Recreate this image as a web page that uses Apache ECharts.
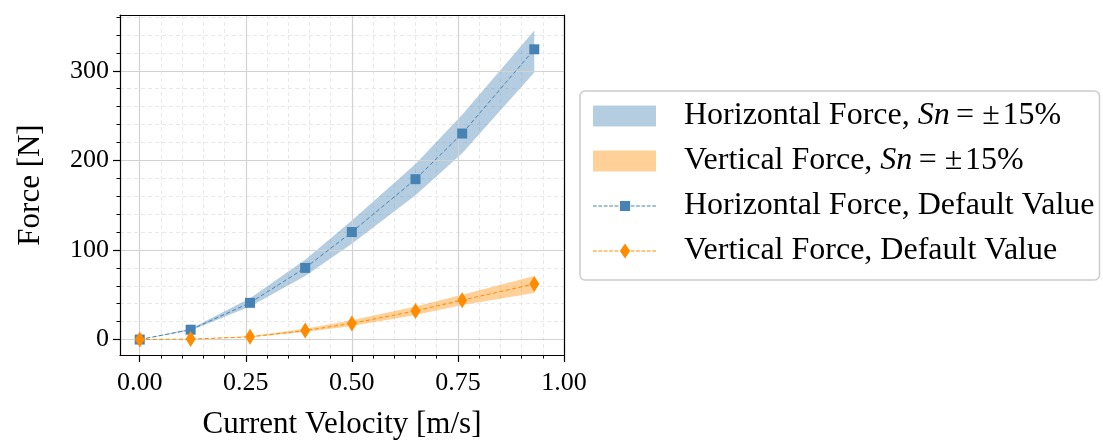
<!DOCTYPE html>
<html>
<head>
<meta charset="utf-8">
<script src="https://cdn.jsdelivr.net/npm/echarts@6/dist/echarts.min.js"></script>
<style>
  html, body { margin: 0; padding: 0; background: #fff; }
  #chart { width: 1103px; height: 444px; }
</style>
</head>
<body>
<div id="chart"></div>
<script>
// Current velocity samples [m/s]
const velocity = [0, 0.12, 0.26, 0.39, 0.50, 0.65, 0.76, 0.93];

// Horizontal force [N]: default value and the Sn = ±15% envelope
const horizontalForce = [0, 11, 41, 80, 120, 179, 230, 324];
const horizontalUpper = [0, 12, 46, 89, 133, 196, 251, 345];
const horizontalLower = [0, 10, 37, 71, 107, 161, 208, 298];

// Vertical force [N]: default value and the Sn = ±15% envelope
const verticalForce = [0, 0.5, 3, 10, 18, 32, 44, 62];
const verticalUpper = [0, 0.6, 3.6, 12, 21.5, 37, 50, 71];
const verticalLower = [0, 0.4, 2.5, 8.5, 15, 27.5, 38.5, 52];

// Axis ticks
const xMajorTicks = [0, 0.25, 0.5, 0.75, 1.0];
const xMinorTicks = [0.05, 0.1, 0.15, 0.2, 0.3, 0.35, 0.4, 0.45, 0.55, 0.6, 0.65, 0.7, 0.8, 0.85, 0.9, 0.95];
const yMajorTicks = [0, 100, 200, 300];
const yMinorTicks = [20, 40, 60, 80, 120, 140, 160, 180, 220, 240, 260, 280, 320, 340, 360];

const X_MIN = -0.0465, X_MAX = 1.0;
const Y_MIN = -17.25, Y_MAX = 362.3;

const FONT = '"Liberation Serif", "DejaVu Serif", serif';
const BLUE = '#4682B4';
const ORANGE = '#FF8C00';
const BLUE_BAND = 'rgba(70,130,180,0.4)';
const ORANGE_BAND = 'rgba(255,140,0,0.4)';

// Legend glyph: dashed line with a marker in the middle (63 px wide)
function dashedIcon(markerPath, h) {
  const mid = h / 2;
  let d = '';
  for (let x = 0; x < 63; x += 5.3) {
    const w = Math.min(3.7, 63 - x);
    d += `M${x.toFixed(2)},${(mid - 0.5).toFixed(2)}h${w.toFixed(2)}v1h${(-w).toFixed(2)}Z`;
  }
  return 'path://' + d + markerPath;
}
const squareIcon = dashedIcon('M26.5,0h10v10h-10Z', 10);
const diamondIcon = dashedIcon('M31.5,0L36.5,7.5L31.5,15L26.5,7.5Z', 15);

const legendLabels = {
  hBand: 'Horizontal Force, {i|Sn}\u2009=\u2005\u00b1\u200a15%',
  vBand: 'Vertical Force, {i|Sn}\u2009=\u2005\u00b1\u200a15%',
  hLine: 'Horizontal Force, Default Value',
  vLine: 'Vertical Force, Default Value'
};

function bandSeries(name, lower, upper, color) {
  return {
    name: name,
    type: 'custom',
    xAxisIndex: 0,
    yAxisIndex: 0,
    z: 1,
    itemStyle: { color: color },
    data: velocity.map((x, i) => [x, lower[i], upper[i]]),
    encode: { x: 0, y: [1, 2] },
    renderItem: function (params, api) {
      if (params.dataIndex !== 0) return null;
      const pts = [];
      for (let i = 0; i < velocity.length; i++) pts.push(api.coord([velocity[i], upper[i]]));
      for (let i = velocity.length - 1; i >= 0; i--) pts.push(api.coord([velocity[i], lower[i]]));
      return { type: 'polygon', shape: { points: pts }, style: { fill: color } };
    }
  };
}

function lineSeries(name, values, color, symbol, size) {
  return {
    name: name,
    type: 'line',
    xAxisIndex: 0,
    yAxisIndex: 0,
    z: 3,
    data: velocity.map((x, i) => [x, values[i]]),
    symbol: symbol,
    symbolSize: size,
    showAllSymbol: true,
    itemStyle: { color: color },
    lineStyle: { color: color, width: 1, type: [4, 2.5] }
  };
}

const tickLine = { color: '#000', width: 1.2 };
const labelStyle = { color: '#000', fontFamily: FONT, fontSize: 26 };
const nameStyle = { color: '#000', fontFamily: FONT, fontSize: 31 };

const chart = echarts.init(document.getElementById('chart'), null, { renderer: 'canvas' });
chart.setOption({
  animation: false,
  backgroundColor: '#fff',
  grid: { left: 120, right: 539, top: 15, bottom: 89, show: false, outerBoundsMode: 'none', containLabel: false },
  xAxis: [
    {
      type: 'value', min: X_MIN, max: X_MAX, position: 'bottom', z: 2,
      name: 'Current Velocity [m/s]', nameLocation: 'middle', nameGap: 54,
      nameTextStyle: nameStyle,
      axisLine: { show: true, onZero: false, lineStyle: tickLine },
      axisTick: { show: true, customValues: xMajorTicks, length: 7, lineStyle: tickLine },
      axisLabel: Object.assign({ customValues: xMajorTicks, margin: 15, formatter: v => v.toFixed(2) }, labelStyle),
      splitLine: { show: true, lineStyle: { color: '#d2d2d2', width: 1.2 } }
    },
    {
      type: 'value', min: X_MIN, max: X_MAX, position: 'bottom', z: 1,
      axisLine: { show: false, onZero: false },
      axisTick: { show: true, customValues: xMinorTicks, length: 3.5, lineStyle: { color: '#000', width: 1 } },
      axisLabel: { show: false },
      splitLine: { show: true, lineStyle: { color: '#e9e9e9', width: 1, type: [4, 3] } }
    },
    {
      type: 'value', min: X_MIN, max: X_MAX, position: 'top', z: 5,
      axisLine: { show: true, onZero: false, lineStyle: tickLine },
      axisTick: { show: false }, axisLabel: { show: false }, splitLine: { show: false }
    }
  ],
  yAxis: [
    {
      type: 'value', min: Y_MIN, max: Y_MAX, position: 'left', z: 2,
      name: 'Force [N]', nameLocation: 'middle', nameGap: 74, nameRotate: 90,
      nameTextStyle: nameStyle,
      axisLine: { show: true, onZero: false, lineStyle: tickLine },
      axisTick: { show: true, customValues: yMajorTicks, length: 7, lineStyle: tickLine },
      axisLabel: Object.assign({ customValues: yMajorTicks, margin: 11 }, labelStyle),
      splitLine: { show: true, lineStyle: { color: '#d2d2d2', width: 1.2 } }
    },
    {
      type: 'value', min: Y_MIN, max: Y_MAX, position: 'left', z: 1,
      axisLine: { show: false, onZero: false },
      axisTick: { show: true, customValues: yMinorTicks, length: 3.5, lineStyle: { color: '#000', width: 1 } },
      axisLabel: { show: false },
      splitLine: { show: true, lineStyle: { color: '#e9e9e9', width: 1, type: [4, 3] } }
    },
    {
      type: 'value', min: Y_MIN, max: Y_MAX, position: 'right', z: 5,
      axisLine: { show: true, onZero: false, lineStyle: tickLine },
      axisTick: { show: false }, axisLabel: { show: false }, splitLine: { show: false }
    }
  ],
  legend: {
    orient: 'vertical',
    left: 580, top: 91,
    selectedMode: false,
    itemWidth: 63, itemHeight: 21, itemGap: 11,
    padding: [8, 5, 12, 13],
    backgroundColor: '#fff',
    borderColor: '#cccccc', borderWidth: 1.5, borderRadius: 5,
    textStyle: {
      color: '#000', fontFamily: FONT, fontSize: 32, lineHeight: 34,
      padding: [0, 0, 0, 23],
      rich: { i: { fontFamily: FONT, fontSize: 32, fontStyle: 'italic', color: '#000', lineHeight: 34 } }
    },
    formatter: name => legendLabels[name],
    data: [
      { name: 'hBand', icon: 'rect', itemStyle: { color: BLUE_BAND, borderWidth: 0 } },
      { name: 'vBand', icon: 'rect', itemStyle: { color: ORANGE_BAND, borderWidth: 0 } },
      { name: 'hLine', icon: squareIcon, itemStyle: { color: BLUE, borderWidth: 0 } },
      { name: 'vLine', icon: diamondIcon, itemStyle: { color: ORANGE, borderWidth: 0 } }
    ]
  },
  series: [
    bandSeries('hBand', horizontalLower, horizontalUpper, BLUE_BAND),
    bandSeries('vBand', verticalLower, verticalUpper, ORANGE_BAND),
    lineSeries('hLine', horizontalForce, BLUE, 'rect', 10),
    lineSeries('vLine', verticalForce, ORANGE, 'diamond', [10, 16])
  ]
});
</script>
</body>
</html>
